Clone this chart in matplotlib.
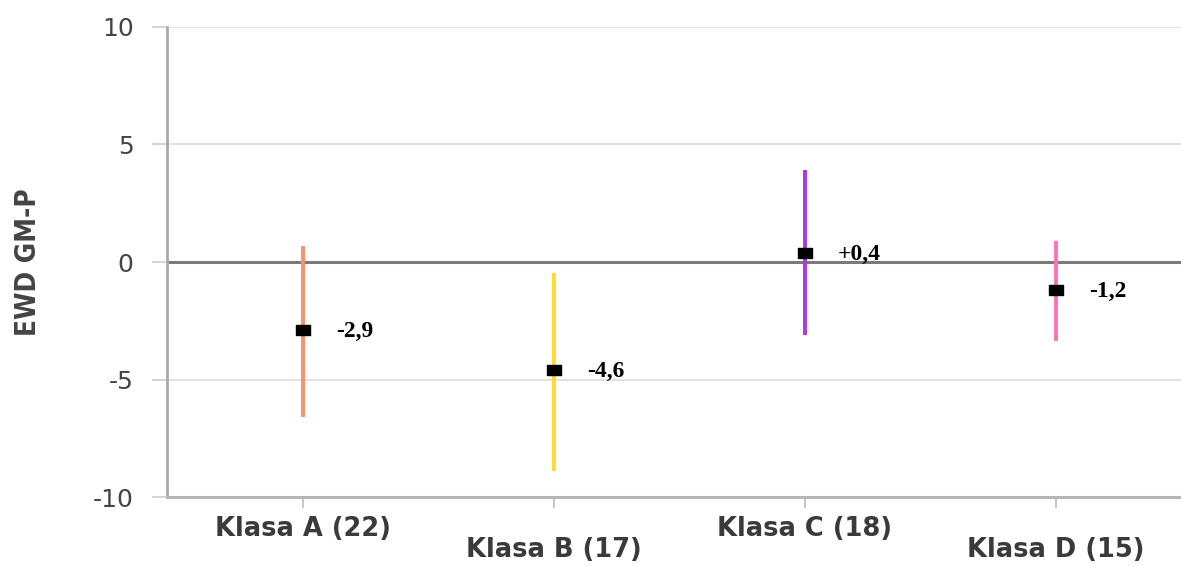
import matplotlib
matplotlib.use("Agg")
import matplotlib.pyplot as plt
import numpy as np

# data
categories = ["Klasa A (22)", "Klasa B (17)", "Klasa C (18)", "Klasa D (15)"]
means = [-2.9, -4.6, 0.4, -1.2]
upper = [0.7, -0.45, 3.9, 0.9]
lower = [-6.6, -8.9, -3.1, -3.35]
value_labels = ["-2,9", "-4,6", "+0,4", "-1,2"]
colors = ["#F9906F", "#FFDA2C", "#A63AE6", "#FF70BA"]
y_ticks = [-10, -5, 0, 5, 10]

fig = plt.figure(figsize=(11.81, 5.66), dpi=100)
ax = fig.add_axes([0.1414, 0.1219, 0.8586, 0.8304])

x = np.arange(len(categories))

# light grid at +-5 and 10, darker zero line
for yv in y_ticks:
    if yv == 0:
        ax.axhline(yv, color="#7a7a7a", lw=2.2, zorder=1)
    elif yv != -10:
        ax.axhline(yv, color="#dddddd", lw=1.2, zorder=0)

# range bars
for xi, lo, hi, c in zip(x, lower, upper, colors):
    ax.vlines(xi, lo, hi, color=c, lw=2.8, zorder=2)

# mean markers (slightly wide squares)
rect = [(-1.4, -1), (1.4, -1), (1.4, 1), (-1.4, 1), (-1.4, -1)]
ax.plot(x, means, linestyle="none", marker=rect, markersize=10,
        color="black", zorder=3)

for xi, m, lab in zip(x, means, value_labels):
    ax.annotate(lab, (xi, m), xytext=(24, -1), textcoords="offset points",
                va="center", ha="left", fontsize=17, fontweight="bold",
                family="Liberation Serif", color="black")

ax.set_xlim(-0.54, 3.5)
ax.set_ylim(-10, 10)
ax.set_yticks(y_ticks)
ax.set_yticklabels([str(v) for v in y_ticks])

# staggered category labels: A, C on major ticks, B, D on minor ticks lower down
ax.set_xticks(x[::2])
ax.set_xticklabels(categories[::2])
ax.set_xticks(x[1::2], minor=True)
ax.set_xticklabels(categories[1::2], minor=True)
ax.tick_params(axis="x", which="both", length=8, width=1.2, color="#bbbbbb",
               labelsize=18.5, labelcolor="#3a3a3a")
ax.tick_params(axis="x", which="major", pad=6)
ax.tick_params(axis="x", which="minor", pad=21)
for lab in ax.get_xticklabels(which="both"):
    lab.set_fontweight("bold")

ax.tick_params(axis="y", length=11, width=1.2, color="#cccccc",
               labelsize=18, labelcolor="#444444", pad=13)

ax.spines["top"].set_visible(False)
ax.spines["right"].set_visible(False)
ax.spines["left"].set_color("#aaaaaa")
ax.spines["left"].set_linewidth(2)
ax.spines["bottom"].set_color("#b5b5b5")
ax.spines["bottom"].set_linewidth(2.2)

ax.set_ylabel("EWD GM-P", fontsize=20, fontweight="bold", color="#444444",
              family="DejaVu Sans", fontstretch="condensed")
ax.yaxis.set_label_coords(-0.123, 0.5)

fig.savefig("out.png", dpi=100)
